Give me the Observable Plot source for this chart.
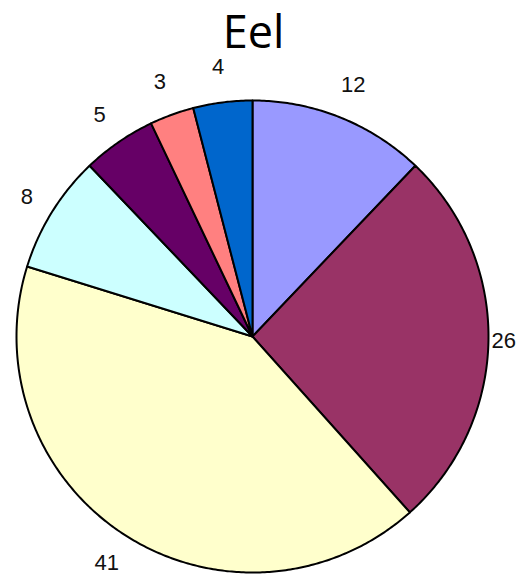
<!DOCTYPE html>
<html>
<head>
<meta charset="utf-8">
<script src="https://cdn.jsdelivr.net/npm/d3@7"></script>
<script src="https://cdn.jsdelivr.net/npm/@observablehq/plot@0.6"></script>
<style>
  html, body { margin: 0; padding: 0; background: #fff; }
  #chart svg { display: block; }
</style>
</head>
<body>
<div id="chart"></div>
<script>
// Slice values, clockwise from 12 o'clock
const values = [12, 26, 41, 8, 5, 3, 4];
const sliceColors = ["#9999FF", "#993366", "#FFFFCC", "#CCFFFF", "#660066", "#FF8080", "#0066CC"];
const title = "Eel";

// Pie angles (0 = top, clockwise)
const arcs = d3.pie().sort(null).value(d => d)(values);

// Outline points for each wedge in unit-circle coordinates (y up)
const wedgePoints = [];
arcs.forEach((a, i) => {
  wedgePoints.push({slice: i, x: 0, y: 0, fill: sliceColors[i]});
  const n = Math.max(8, Math.ceil((a.endAngle - a.startAngle) / 0.01));
  for (let k = 0; k <= n; k++) {
    const t = a.startAngle + (a.endAngle - a.startAngle) * k / n;
    wedgePoints.push({slice: i, x: Math.sin(t), y: Math.cos(t), fill: sliceColors[i]});
  }
});

// Value labels just outside the rim at each wedge's mid-angle,
// kept inside the right edge of the drawing
const xMax = 1.065;
const labels = arcs.map(a => {
  const m = (a.startAngle + a.endAngle) / 2;
  const r = 1 + (22 + 14 * Math.abs(Math.cos(m))) / 236;
  return {x: Math.min(xMax, r * Math.sin(m)), y: r * Math.cos(m), text: String(a.data)};
});

const chart = Plot.plot({
  width: 520,
  height: 586,
  margin: 0,
  x: {domain: [-1, 1], range: [16, 488], axis: null},
  y: {domain: [-1, 1], range: [572, 100], axis: null},
  color: {type: "identity"},
  marks: [
    Plot.line(wedgePoints, {
      x: "x", y: "y", z: "slice", fill: "fill",
      stroke: "#000", strokeWidth: 2, curve: "linear-closed", strokeLinejoin: "round"
    }),
    Plot.text(labels, {
      x: "x", y: "y", text: "text",
      fontFamily: "Liberation Sans, Arial, sans-serif", fontSize: 22, fill: "#111"
    }),
    Plot.text([title], {
      frameAnchor: "top", dx: -7, dy: 16, text: d => d,
      fontFamily: "Open Sans, sans-serif", fontSize: 45, fill: "#000"
    })
  ]
});

document.getElementById("chart").appendChild(chart);
</script>
</body>
</html>
